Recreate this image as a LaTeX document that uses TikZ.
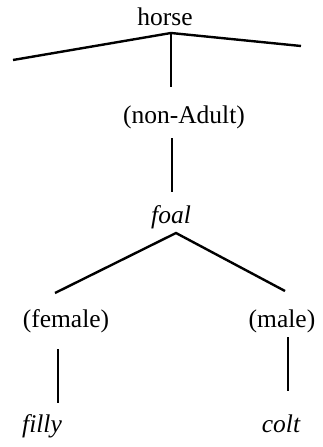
\documentclass[tikz,border=0pt]{standalone}
\usepackage{fontspec}
\setmainfont{Liberation Serif}
\begin{document}
\begin{tikzpicture}[x=1pt,y=-1pt,
  lbl/.style={anchor=base,inner sep=0pt,font=\fontsize{25.5}{30}\selectfont},
  ilbl/.style={lbl,font=\fontsize{25.5}{30}\selectfont\itshape},
  branch/.style={line width=2.4pt}]
\useasboundingbox (0,0) rectangle (322,447);
\node[lbl] (horse) at (165,25) {horse};
\node[lbl] (nonadult) at (184,123) {(non-Adult)};
\node[ilbl] (foal) at (171,223) {foal};
\node[lbl] (female) at (66,327) {(female)};
\node[lbl] (male) at (282,327) {(male)};
\node[ilbl] (filly) at (42,432) {filly};
\node[ilbl] (colt) at (281,432) {colt};
\coordinate (hapex) at (171,33);
\coordinate (hleft) at (13,60);
\coordinate (hright) at (301,46);
\coordinate (hdown) at (171,87);
\coordinate (nup) at (172,138);
\coordinate (ndown) at (172,192);
\coordinate (fapex) at (176,233);
\coordinate (fleft) at (55,293);
\coordinate (fright) at (285,291);
\coordinate (feup) at (58,349);
\coordinate (fedown) at (58,403);
\coordinate (maup) at (288,337);
\coordinate (madown) at (288,391);
\draw[branch] (hleft) -- (hapex) -- (hright);
\draw[branch] (hapex) -- (hdown);
\draw[branch] (nup) -- (ndown);
\draw[branch] (fleft) -- (fapex) -- (fright);
\draw[branch] (feup) -- (fedown);
\draw[branch] (maup) -- (madown);
\end{tikzpicture}
\end{document}
